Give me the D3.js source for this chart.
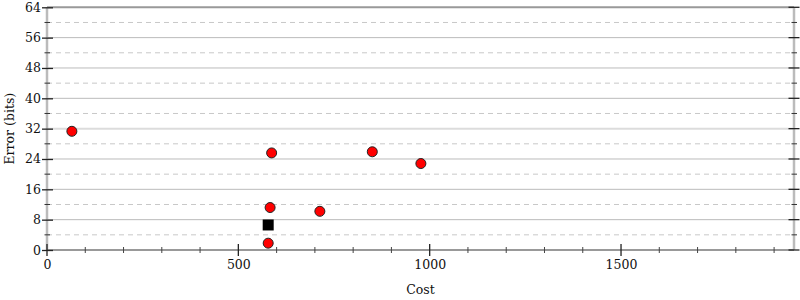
<!DOCTYPE html>
<html><head><meta charset="utf-8">
<script src="https://cdn.jsdelivr.net/npm/d3@7"></script>
<style>body{margin:0;background:#fff}svg{display:block}text{font-family:"DejaVu Serif",serif;fill:#111}</style>
</head><body>
<script>
const pointCost = [65, 587, 850, 977, 583, 713, 578];
const pointError = [31.3, 25.6, 25.9, 22.8, 11.2, 10.2, 1.8];
const squareCost = [578];
const squareError = [6.6];
const xTicks = [0, 500, 1000, 1500];
const xMinorTicks = d3.range(0, 2000, 100);
const yTicks = [0, 8, 16, 24, 32, 40, 48, 56, 64];
const yMinorTicks = [4, 12, 20, 28, 36, 44, 52, 60];
const xMax = 1952, yMax = 64;

const W = 800, H = 300;
const L = 47, R = 794, T = 7.3, B = 250;
const svg = d3.select("body").append("svg").attr("width", W).attr("height", H);
const x = d3.scaleLinear().domain([0, xMax]).range([L, R]);
const y = d3.scaleLinear().domain([0, yMax]).range([B, T]);

// dashed minor grid
svg.append("g").selectAll("line").data(yMinorTicks).join("line")
  .attr("x1", L).attr("x2", R).attr("y1", d => y(d)).attr("y2", d => y(d))
  .attr("stroke", "#c8c8c8").attr("stroke-width", 1).attr("stroke-dasharray", "5,4");
// solid major grid
svg.append("g").selectAll("line").data(yTicks.filter(d => d > 0 && d < 64)).join("line")
  .attr("x1", L).attr("x2", R).attr("y1", d => y(d)).attr("y2", d => y(d))
  .attr("stroke", d => d === 32 ? "#dcdcdc" : "#bbbbbb").attr("stroke-width", d => d === 32 ? 2 : 1);
// top line
svg.append("line").attr("x1", L).attr("x2", R).attr("y1", y(64)).attr("y2", y(64))
  .attr("stroke", "#999").attr("stroke-width", 2);
// left and right axis lines
svg.append("line").attr("x1", L).attr("x2", L).attr("y1", T).attr("y2", B).attr("stroke", "#bbb").attr("stroke-width", 2.5);
svg.append("line").attr("x1", R).attr("x2", R).attr("y1", T).attr("y2", B).attr("stroke", "#bbb").attr("stroke-width", 2.5);
// bottom axis line
svg.append("line").attr("x1", L).attr("x2", R).attr("y1", B).attr("y2", B).attr("stroke", "#999").attr("stroke-width", 2);

// y axis ticks via d3 axis
const yAxis = svg.append("g").attr("transform", `translate(${L+6},0)`)
  .call(d3.axisLeft(y).tickValues(yTicks).tickFormat(d3.format("d")).tickSize(11).tickPadding(1));
yAxis.select(".domain").remove();
yAxis.selectAll(".tick line").attr("stroke", "#222").attr("stroke-width", 1.3);
yAxis.selectAll("text").attr("font-size", 12.5).attr("font-family", "DejaVu Serif").attr("fill", "#111");
svg.append("g").selectAll("line").data(yMinorTicks).join("line")
  .attr("x1", L - 2.5).attr("x2", L + 3).attr("y1", d => y(d)).attr("y2", d => y(d)).attr("stroke", "#333");
// right ticks
svg.append("g").selectAll("line").data(yTicks).join("line")
  .attr("x1", R - 5.5).attr("x2", R + 5.5).attr("y1", d => y(d)).attr("y2", d => y(d)).attr("stroke", "#222").attr("stroke-width", 1.3);
svg.append("g").selectAll("line").data(yMinorTicks).join("line")
  .attr("x1", R - 2.5).attr("x2", R + 3).attr("y1", d => y(d)).attr("y2", d => y(d)).attr("stroke", "#333");

// x axis
const xAxis = svg.append("g").attr("transform", `translate(0,${B+6})`)
  .call(d3.axisBottom(x).tickValues(xTicks).tickFormat(d3.format("d")).tickSize(0).tickPadding(4));
xAxis.select(".domain").remove();
xAxis.selectAll("text").attr("font-size", 12.5).attr("font-family", "DejaVu Serif").attr("fill", "#111");
svg.append("g").selectAll("line").data(xTicks).join("line")
  .attr("x1", d => x(d)).attr("x2", d => x(d)).attr("y1", B - 6).attr("y2", B + 6).attr("stroke", "#222").attr("stroke-width", 1.3);
svg.append("g").selectAll("line").data(xMinorTicks.filter(d => xTicks.indexOf(d) < 0)).join("line")
  .attr("x1", d => x(d)).attr("x2", d => x(d)).attr("y1", B - 3).attr("y2", B + 3).attr("stroke", "#444");

// labels
svg.append("text").attr("x", (L + R) / 2).attr("y", 294).attr("text-anchor", "middle").attr("font-size", 12.5).text("Cost");
svg.append("text").attr("transform", `translate(14,${(T + B) / 2}) rotate(-90)`).attr("text-anchor", "middle").attr("font-size", 12.5).text("Error (bits)");

// points
const pts = pointCost.map((c, i) => ({c, e: pointError[i]}));
svg.append("g").selectAll("circle").data(pts).join("circle")
  .attr("cx", d => x(d.c)).attr("cy", d => y(d.e)).attr("r", 5)
  .attr("fill", "#ff0000").attr("stroke", "#222").attr("stroke-width", 1);
const sq = squareCost.map((c, i) => ({c, e: squareError[i]}));
svg.append("g").selectAll("rect").data(sq).join("rect")
  .attr("x", d => x(d.c) - 5.5).attr("y", d => y(d.e) - 5.5).attr("width", 11).attr("height", 11).attr("fill", "#000");
</script>
</body></html>
